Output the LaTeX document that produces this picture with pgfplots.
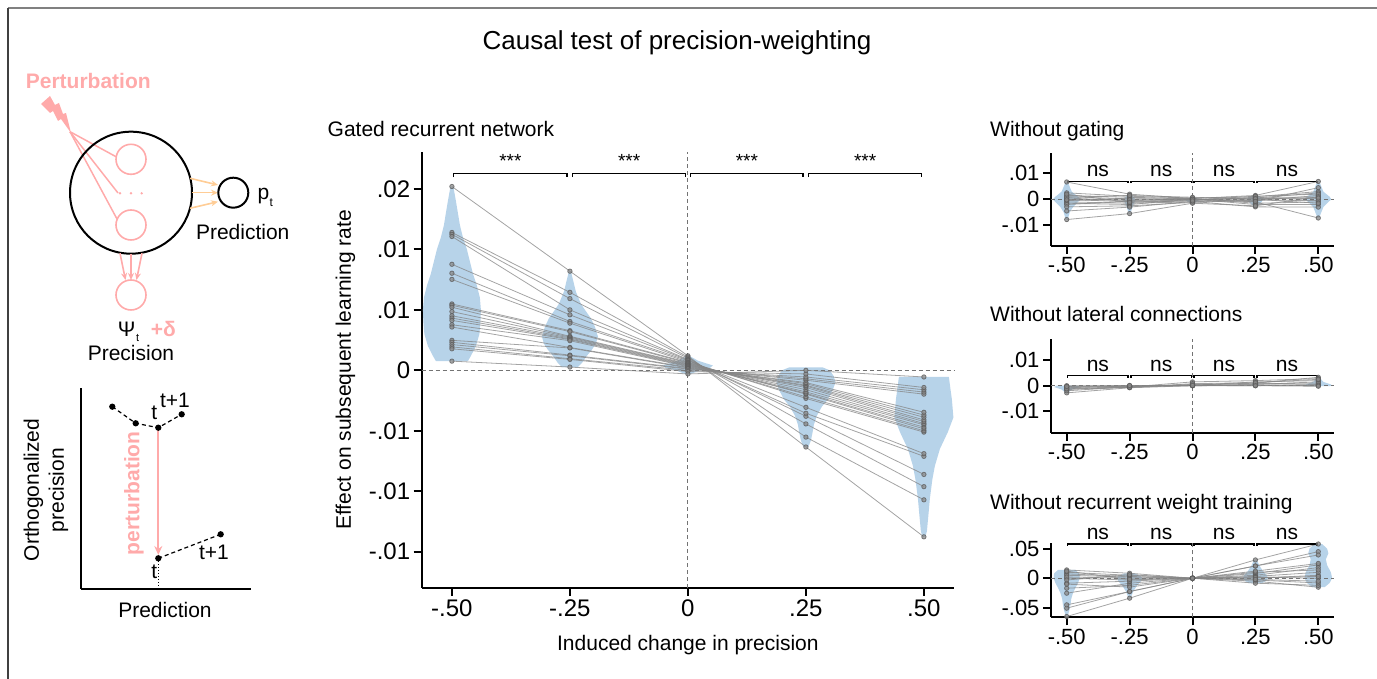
\documentclass[border=0pt]{standalone}
\usepackage{fontspec}
\setmainfont{Liberation Sans}
\usepackage{pgfplots}
\pgfplotsset{compat=1.18}
\usepackage{pgfplotstable}
\usetikzlibrary{arrows.meta}
\definecolor{vblue}{RGB}{183,211,233}
\definecolor{pinkc}{RGB}{255,170,170}
\definecolor{orangec}{RGB}{255,205,150}
\newcommand\fs[1]{\fontsize{#1}{#1}\selectfont}

\pgfplotstableread{
x l1 l2 l3 l4 l5 l6 l7 l8 l9 l10 l11 l12 l13 l14 l15 l16 l17 l18 l19 l20 l21 l22
-0.5 15.2 11.4 11.25 11.07 8.77 8.03 7.52 5.49 5.38 5.22 4.86 4.51 4.32 4.13 3.77 3.58 2.48 2.32 2.13 1.94 1.78 0.76
-0.25 8.2 6.45 5.93 5.0 4.59 4.04 3.9 3.28 3.2 2.81 2.75 2.68 2.6 2.54 2.45 1.89 1.85 1.26 1.2 0.96 0.9 0.27
0 1.2 1.1 1.0 0.9 0.85 0.8 0.7 0.65 0.6 0.55 0.5 0.45 0.4 0.35 0.3 0.25 0.2 0.15 0.1 0.0 -0.1 -0.3
0.25 -6.34 -5.52 -4.43 -3.8 -3.55 -3.06 -2.32 -2.19 -1.97 -1.9 -1.78 -1.6 -1.42 -1.3 -1.23 -1.1 -1.01 -0.82 -0.7 -0.55 -0.3 0.0
0.5 -13.77 -10.71 -9.62 -8.61 -7.11 -6.89 -5.11 -5.0 -4.84 -4.7 -4.51 -4.4 -4.24 -4.1 -3.88 -3.7 -3.47 -1.97 -1.8 -1.61 -1.42 -0.55
}\maintab

\pgfplotstableread{
x p1 p2 p3 p4 p5 p6 p7 p8 p9 p10 p11 p12 p13 p14 p15 p16
-0.5 6.7 2.5 1.5 1.0 0.5 0.0 -0.5 -1.0 -1.5 -2.0 -2.9 -4.5 -7.8 0.8 -0.2 2.0
-0.25 2.0 1.2 0.8 0.2 -0.5 -1.0 0.5 -1.5 -2.0 -0.8 -2.5 -3.0 -5.5 1.5 -0.2 -1.2
0 0.3 0.5 0.2 -0.3 0.0 -0.5 0.3 -1.0 0.1 -0.2 -1.2 -0.8 -1.5 0.8 0.0 -0.6
0.25 1.5 1.0 -1.0 0.5 -0.5 0.8 -1.5 0.2 -2.0 1.2 -0.2 -2.9 -2.5 0.0 0.3 -0.8
0.5 6.9 3.0 -7.2 2.5 1.5 0.8 -1.0 0.2 -2.0 2.0 -0.5 -3.0 1.0 -1.5 0.5 4.5
}\tabA

\pgfplotstableread{
x q1 q2 q3 q4 q5 q6 q7 q8 q9 q10
-0.5 -0.5 -1.0 -2.8 -0.2 -1.5 0.0 -2.0 -0.8 -1.2 -0.3
-0.25 -0.3 -0.5 -0.8 -0.2 -0.6 0.0 -0.4 -0.1 -0.7 0.1
0 0.3 1.5 0.0 0.2 0.1 0.0 0.5 0.0 0.8 0.1
0.25 1.0 2.0 0.2 0.5 1.5 0.0 0.8 0.3 1.2 0.0
0.5 3.3 2.8 0.0 1.5 2.0 0.5 1.0 0.2 2.5 -0.2
}\tabB

\pgfplotstableread{
x r1 r2 r3 r4 r5 r6 r7 r8 r9 r10 r11 r12 r13 r14 r15
-0.5 -64.7 -50.6 -45 -25.3 -16.9 14 10 7.3 0 -8.4 5 2 -3 12 -10
-0.25 -33.7 -22.5 -22.5 -8.4 -12 8.4 5 3 -3 -5 2 0 6 -2 -15
0 0 0 0 0 0 0 0 0 0 0 0 0 0 0 0
0.25 30.9 20.7 20.7 8 5 -5 -8.4 0 3 2 -3 1 10 -2 12
0.5 57.8 44.9 39.3 22.5 18 -15.2 -12 5 10 0 -8 3 14 -5 25
}\tabC

\pgfplotsset{
 lineplot/.style={draw=black!48, line width=0.8pt, opacity=0.75, mark=*, mark size=2.2pt, mark options={fill=black!45,draw=black!65}},
 violin/.style={fill=vblue, draw=none, forget plot},
 myaxis/.style={scale only axis, anchor=south west, axis lines=left, axis line style={-, line width=2pt},
   tick style={line width=2pt, black}, major tick length=8pt, tick align=outside, clip=false,
   xtick={-0.5,-0.25,0,0.25,0.5}, xticklabels={-.50,-.25,0,.25,.50}},
}

\newcommand\sigbr[4]{%
 \draw[line width=1.3pt] (axis cs:-0.496,#2) -- (axis cs:-0.496,#1) -- (axis cs:-0.256,#1) -- (axis cs:-0.256,#2);
 \draw[line width=1.3pt] (axis cs:-0.244,#2) -- (axis cs:-0.244,#1) -- (axis cs:-0.005,#1) -- (axis cs:-0.005,#2);
 \draw[line width=1.3pt] (axis cs:0.006,#2) -- (axis cs:0.006,#1) -- (axis cs:0.244,#1) -- (axis cs:0.244,#2);
 \draw[line width=1.3pt] (axis cs:0.256,#2) -- (axis cs:0.256,#1) -- (axis cs:0.495,#1) -- (axis cs:0.495,#2);
 \node[anchor=base, inner sep=0pt] at (axis cs:-0.376,#3) {#4};
 \node[anchor=base, inner sep=0pt] at (axis cs:-0.1245,#3) {#4};
 \node[anchor=base, inner sep=0pt] at (axis cs:0.125,#3) {#4};
 \node[anchor=base, inner sep=0pt] at (axis cs:0.3755,#3) {#4};
}

\begin{document}
\begin{tikzpicture}[x=1pt,y=1pt]

% ---------------- main axis ----------------
\begin{axis}[myaxis, at={(421.7pt,91pt)}, width=532.4pt, height=436.3pt,
  xmin=-0.564, xmax=0.564, ymin=-18, ymax=18.08,
  ytick={-15,-10,-5,0,5,10,15}, yticklabels={-.01,-.01,-.01,0,.01,.01,.02},
  ticklabel style={font=\fs{24}}]
\addplot[violin] coordinates {(-0.4661,0.76) (-0.4597,1.2) (-0.4492,2) (-0.4417,3) (-0.4396,4) (-0.4386,5) (-0.4407,6) (-0.447,7) (-0.4555,8) (-0.4619,9) (-0.4682,10) (-0.4767,11) (-0.483,12) (-0.4915,14) (-0.497,15.2) (-0.503,15.2) (-0.5085,14) (-0.517,12) (-0.5233,11) (-0.5318,10) (-0.5381,9) (-0.5445,8) (-0.553,7) (-0.5593,6) (-0.5614,5) (-0.5604,4) (-0.5583,3) (-0.5508,2) (-0.5403,1.2) (-0.5339,0.76)};
\addplot[violin] coordinates {(-0.2331,0.27) (-0.2246,0.6) (-0.214,1.2) (-0.2034,1.7) (-0.1949,2.2) (-0.1907,2.8) (-0.197,3.6) (-0.2055,4.3) (-0.2182,5.0) (-0.2267,5.5) (-0.2373,6.5) (-0.2436,7.5) (-0.2479,8.2) (-0.2521,8.2) (-0.2564,7.5) (-0.2627,6.5) (-0.2733,5.5) (-0.2818,5.0) (-0.2945,4.3) (-0.303,3.6) (-0.3093,2.8) (-0.3051,2.2) (-0.2966,1.7) (-0.286,1.2) (-0.2754,0.6) (-0.2669,0.27)};
\addplot[violin] coordinates {(0.0042,-0.33) (0.0254,0) (0.0466,0.2) (0.053,0.4) (0.0212,0.8) (0.0042,1.17) (-0.0042,1.17) (-0.0212,0.8) (-0.053,0.4) (-0.0466,0.2) (-0.0254,0) (-0.0042,-0.33)};
\addplot[violin] coordinates {(0.2553,-6.34) (0.2606,-5.8) (0.2638,-5.2) (0.2669,-4.5) (0.2733,-3.75) (0.2839,-3) (0.2966,-2.4) (0.3072,-1.6) (0.3125,-1) (0.3093,-0.5) (0.3008,0) (0.285,0.25) (0.215,0.25) (0.1992,0) (0.1907,-0.5) (0.1875,-1) (0.1928,-1.6) (0.2034,-2.4) (0.2161,-3) (0.2267,-3.75) (0.2331,-4.5) (0.2362,-5.2) (0.2394,-5.8) (0.2447,-6.34)};
\addplot[violin] coordinates {(0.5032,-13.77) (0.5064,-13.3) (0.5095,-12) (0.5127,-10.6) (0.518,-9) (0.5233,-7.9) (0.5339,-6.5) (0.5424,-5.8) (0.5508,-5.1) (0.5625,-3.9) (0.5593,-2.4) (0.5561,-1.5) (0.553,-0.55) (0.447,-0.55) (0.4439,-1.5) (0.4407,-2.4) (0.4375,-3.9) (0.4492,-5.1) (0.4576,-5.8) (0.4661,-6.5) (0.4767,-7.9) (0.482,-9) (0.4873,-10.6) (0.4905,-12) (0.4936,-13.3) (0.4968,-13.77)};
\draw[black!55, line width=1pt, dash pattern=on 4pt off 3pt] (axis cs:-0.564,0) -- (axis cs:0.564,0);
\draw[black!55, line width=1pt, dash pattern=on 4pt off 3pt] (axis cs:0,-18) -- (axis cs:0,18.08);
\pgfplotsinvokeforeach{1,...,22}{\addplot[lineplot] table[x=x,y=l#1]{\maintab};}
\sigbr{16.29}{15.97}{16.78}{\fs{19}***}
\node[rotate=90, font=\fs{21}] at (axis description cs:-0.143,0.5) {Effect on subsequent learning rate};
\node[font=\fs{21}] at (axis description cs:0.5,-0.131) {Induced change in precision};
\end{axis}

% ---------------- panel 1 ----------------
\begin{axis}[myaxis, at={(1051pt,433pt)}, width=283pt, height=93.3pt,
  xmin=-0.5624, xmax=0.5624, ymin=-18, ymax=18,
  ytick={-10,0,10}, yticklabels={-.01,0,.01}, ticklabel style={font=\fs{22}}]
\addplot[violin] coordinates {(-0.496,-7.8) (-0.488,-5) (-0.475,-3) (-0.455,-1) (-0.444,0) (-0.455,1) (-0.48,3) (-0.496,6.7) (-0.504,6.7) (-0.52,3) (-0.545,1) (-0.556,0) (-0.545,-1) (-0.525,-3) (-0.512,-5) (-0.504,-7.8)};
\addplot[violin] coordinates {(-0.247,-5.5) (-0.235,-2) (-0.226,-0.5) (-0.23,0.5) (-0.245,2) (-0.255,2) (-0.27,0.5) (-0.274,-0.5) (-0.265,-2) (-0.253,-5.5)};
\addplot[violin] coordinates {(0.005,-1.5) (0.025,-0.5) (0.03,0) (0.005,0.8) (-0.005,0.8) (-0.03,0) (-0.025,-0.5) (-0.005,-1.5)};
\addplot[violin] coordinates {(0.255,-2.9) (0.275,-1) (0.282,0.3) (0.258,1.5) (0.242,1.5) (0.218,0.3) (0.225,-1) (0.245,-2.9)};
\addplot[violin] coordinates {(0.503,-7.2) (0.52,-3) (0.54,-1) (0.552,0) (0.545,1) (0.52,3) (0.504,6.9) (0.496,6.9) (0.48,3) (0.455,1) (0.448,0) (0.46,-1) (0.48,-3) (0.497,-7.2)};
\draw[black!55, line width=1pt, dash pattern=on 4pt off 3pt] (axis cs:-0.5624,0) -- (axis cs:0.5624,0);
\draw[black!55, line width=1pt, dash pattern=on 4pt off 3pt] (axis cs:0,-18) -- (axis cs:0,18);
\pgfplotsinvokeforeach{1,...,16}{\addplot[lineplot] table[x=x,y=p#1]{\tabA};}
\sigbr{7.0}{6.3}{8.65}{\fs{21}ns}
\end{axis}

% ---------------- panel 2 ----------------
\begin{axis}[myaxis, at={(1051pt,246.3pt)}, width=283pt, height=93.7pt,
  xmin=-0.5624, xmax=0.5624, ymin=-18.4, ymax=18.3,
  ytick={-10,0,10}, yticklabels={-.01,0,.01}, ticklabel style={font=\fs{22}}]
\addplot[violin] coordinates {(-0.496,-2.8) (-0.48,-1.5) (-0.45,-0.5) (-0.46,0) (-0.54,0) (-0.55,-0.5) (-0.52,-1.5) (-0.504,-2.8)};
\addplot[violin] coordinates {(-0.246,-0.8) (-0.235,-0.3) (-0.24,0.1) (-0.26,0.1) (-0.265,-0.3) (-0.254,-0.8)};
\addplot[violin] coordinates {(0,-0.2) (0.012,0) (0.01,0.2) (0.003,1.5) (-0.003,1.5) (-0.01,0.2) (-0.012,0)};
\addplot[violin] coordinates {(0.262,0) (0.265,0.5) (0.254,2) (0.246,2) (0.235,0.5) (0.238,0)};
\addplot[violin] coordinates {(0.54,-0.2) (0.555,0) (0.55,0.5) (0.52,1.5) (0.504,3.3) (0.496,3.3) (0.48,1.5) (0.45,0.5) (0.445,0) (0.46,-0.2)};
\draw[black!55, line width=1pt, dash pattern=on 4pt off 3pt] (axis cs:-0.5624,0) -- (axis cs:0.5624,0);
\draw[black!55, line width=1pt, dash pattern=on 4pt off 3pt] (axis cs:0,-18.4) -- (axis cs:0,18.3);
\pgfplotsinvokeforeach{1,...,10}{\addplot[lineplot] table[x=x,y=q#1]{\tabB};}
\sigbr{3.9}{3.1}{5.7}{\fs{21}ns}
\end{axis}

% ---------------- panel 3 ----------------
\begin{axis}[myaxis, at={(1051pt,61.7pt)}, width=283pt, height=74pt,
  xmin=-0.5624, xmax=0.5624, ymin=-66, ymax=59,
  ytick={-50,0,50}, yticklabels={-.05,0,.05}, ticklabel style={font=\fs{22}}]
\addplot[violin] coordinates {(-0.497,-64.7) (-0.492,-58) (-0.487,-50) (-0.485,-45) (-0.482,-35) (-0.475,-25) (-0.465,-16) (-0.455,-8) (-0.448,0) (-0.45,8) (-0.465,14) (-0.535,14) (-0.55,8) (-0.552,0) (-0.545,-8) (-0.535,-16) (-0.525,-25) (-0.518,-35) (-0.515,-45) (-0.513,-50) (-0.508,-58) (-0.503,-64.7)};
\addplot[violin] coordinates {(-0.246,-33.7) (-0.235,-22) (-0.22,-12) (-0.205,-5) (-0.2,0) (-0.205,3) (-0.23,8.4) (-0.27,8.4) (-0.295,3) (-0.3,0) (-0.295,-5) (-0.28,-12) (-0.265,-22) (-0.254,-33.7)};
\addplot[violin] coordinates {(0.015,0) (0.01,1) (-0.01,1) (-0.015,0) (-0.01,-1) (0.01,-1)};
\addplot[violin] coordinates {(0.275,-8.4) (0.29,-5) (0.3,0) (0.295,5) (0.28,12) (0.265,22) (0.256,30.9) (0.244,30.9) (0.235,22) (0.22,12) (0.205,5) (0.2,0) (0.21,-5) (0.225,-8.4)};
\addplot[violin] coordinates {(0.525,-15.2) (0.545,-8) (0.555,0) (0.55,10) (0.535,22) (0.53,32) (0.54,42) (0.535,50) (0.515,57.8) (0.485,57.8) (0.465,50) (0.46,42) (0.47,32) (0.465,22) (0.45,10) (0.445,0) (0.455,-8) (0.475,-15.2)};
\draw[black!55, line width=1pt, dash pattern=on 4pt off 3pt] (axis cs:-0.5624,0) -- (axis cs:0.5624,0);
\draw[black!55, line width=1pt, dash pattern=on 4pt off 3pt] (axis cs:0,-66) -- (axis cs:0,59);
\pgfplotsinvokeforeach{1,...,15}{\addplot[lineplot] table[x=x,y=r#1]{\tabC};}
\sigbr{57.8}{54.5}{65.4}{\fs{21}ns}
\end{axis}

% ---------------- schematic axis ----------------
\begin{axis}[scale only axis, anchor=south west, at={(80.7pt,90pt)}, width=170pt, height=201pt,
  axis lines=left, axis line style={-, line width=2pt}, xtick=\empty, ytick=\empty,
  xmin=0, xmax=170, ymin=0, ymax=201, clip=false]
\addplot[pinkc, line width=2pt, -{Stealth[length=9pt,width=8pt]}] coordinates {(77.6,161.3) (77.6,34)};
\addplot[black, dotted, line width=1pt] coordinates {(77.6,30.7) (77.6,0)};
\addplot[black, line width=1.2pt, dash pattern=on 4pt off 3pt, mark=*, mark size=2.5pt, mark options={solid}] coordinates {(31.6,182.3) (55,165.7) (77.6,161.3) (101,174.7)};
\addplot[black, line width=1.2pt, dash pattern=on 4pt off 3pt, mark=*, mark size=2.5pt, mark options={solid}] coordinates {(77.6,30.7) (140,54.7)};
\end{axis}

% ---------------- annotations in image coordinates ----------------
\begin{scope}[x=1pt,y=-1pt,yshift=679pt]
 \draw[black!50, line width=2pt] (8,8) -- (1377,8);
 \draw[black!75, line width=2pt] (8,8) -- (8,679);
 \node[anchor=base, inner sep=0pt, font=\fs{26}] at (677,50) {Causal test of precision-weighting};
 \node[anchor=base west, inner sep=0pt, font=\fs{21}] at (327.5,136.7) {Gated recurrent network};
 \node[anchor=base west, inner sep=0pt, font=\fs{21}] at (990,136.7) {Without gating};
 \node[anchor=base west, inner sep=0pt, font=\fs{21}] at (990,321.7) {Without lateral connections};
 \node[anchor=base west, inner sep=0pt, font=\fs{21}] at (990,509.3) {Without recurrent weight training};
 % network
 \draw[pinkc, line width=1.5pt] (70,131.7) -- (116,156.7);
 \draw[pinkc, line width=1.5pt] (70,131.7) -- (118,193);
 \draw[pinkc, line width=1.5pt] (70,131.7) -- (117,219);
 \fill[pinkc] (41,104) -- (50,96) -- (55,105) -- (59,103) -- (63,114) -- (66,113) -- (71,133) -- (61,119) -- (58,121) -- (53,111) -- (50,113) -- cycle;
 \draw[black, line width=2pt] (131,192.7) circle[radius=61pt];
 \draw[pinkc, line width=1.6pt] (131,159.3) circle[radius=15pt];
 \draw[pinkc, line width=1.6pt] (131,225) circle[radius=15pt];
 \fill[pinkc] (120,193.3) circle[radius=1.3pt] (131,193.3) circle[radius=1.3pt] (141.7,193.3) circle[radius=1.3pt];
 \draw[orangec, line width=1.6pt, -{Stealth[length=7pt,width=6pt]}] (190,178.3) -- (218,185);
 \draw[orangec, line width=1.6pt, -{Stealth[length=7pt,width=6pt]}] (191.7,192.7) -- (218,192.7);
 \draw[orangec, line width=1.6pt, -{Stealth[length=7pt,width=6pt]}] (190,208.3) -- (218,201.7);
 \draw[black, line width=2pt] (233.3,192.7) circle[radius=15pt];
 \node[anchor=base west, inner sep=0pt, font=\fs{21}] at (257.5,200) {p};
 \node[anchor=base west, inner sep=0pt, font=\fs{12}] at (269.5,207) {t};
 \node[anchor=base, inner sep=0pt, font=\fs{21}] at (242.7,240) {Prediction};
 \draw[pinkc, line width=1.6pt, -{Stealth[length=7pt,width=6pt]}] (120,253.3) -- (125.5,280);
 \draw[pinkc, line width=1.6pt, -{Stealth[length=7pt,width=6pt]}] (131,254) -- (131,280);
 \draw[pinkc, line width=1.6pt, -{Stealth[length=7pt,width=6pt]}] (142,253.3) -- (136.5,280);
 \draw[pinkc, line width=1.6pt] (131,295) circle[radius=15pt];
 \node[anchor=base, inner sep=0pt, font=\fs{21}] at (126.7,336.7) {Ψ};
 \node[anchor=base west, inner sep=0pt, font=\fs{11}] at (136,342) {t};
 \node[anchor=base, inner sep=0pt, font=\bfseries\fs{21}, text=pinkc] at (163.3,336.7) {+δ};
 \node[anchor=base, inner sep=0pt, font=\fs{21}] at (131,361) {Precision};
 \node[anchor=base, inner sep=0pt, font=\bfseries\fs{21}, text=pinkc] at (88.3,88.3) {Perturbation};
 % schematic labels
 \node[font=\fs{21}] at (154.3,413.3) {t};
 \node[font=\fs{21}] at (175,400.7) {t+1};
 \node[font=\fs{21}] at (214,552.7) {t+1};
 \node[font=\fs{21}] at (154.3,571.7) {t};
 \node[rotate=90, font=\bfseries\fs{21}, text=pinkc] at (134,493.3) {perturbation};
 \node[font=\fs{21}] at (165,610) {Prediction};
 \node[rotate=90, align=center, font=\fontsize{21}{25}\selectfont] at (46,490) {Orthogonalized\\precision};
\end{scope}

\pgfresetboundingbox
\useasboundingbox (0,0) rectangle (1377pt,679pt);
\end{tikzpicture}
\end{document}
